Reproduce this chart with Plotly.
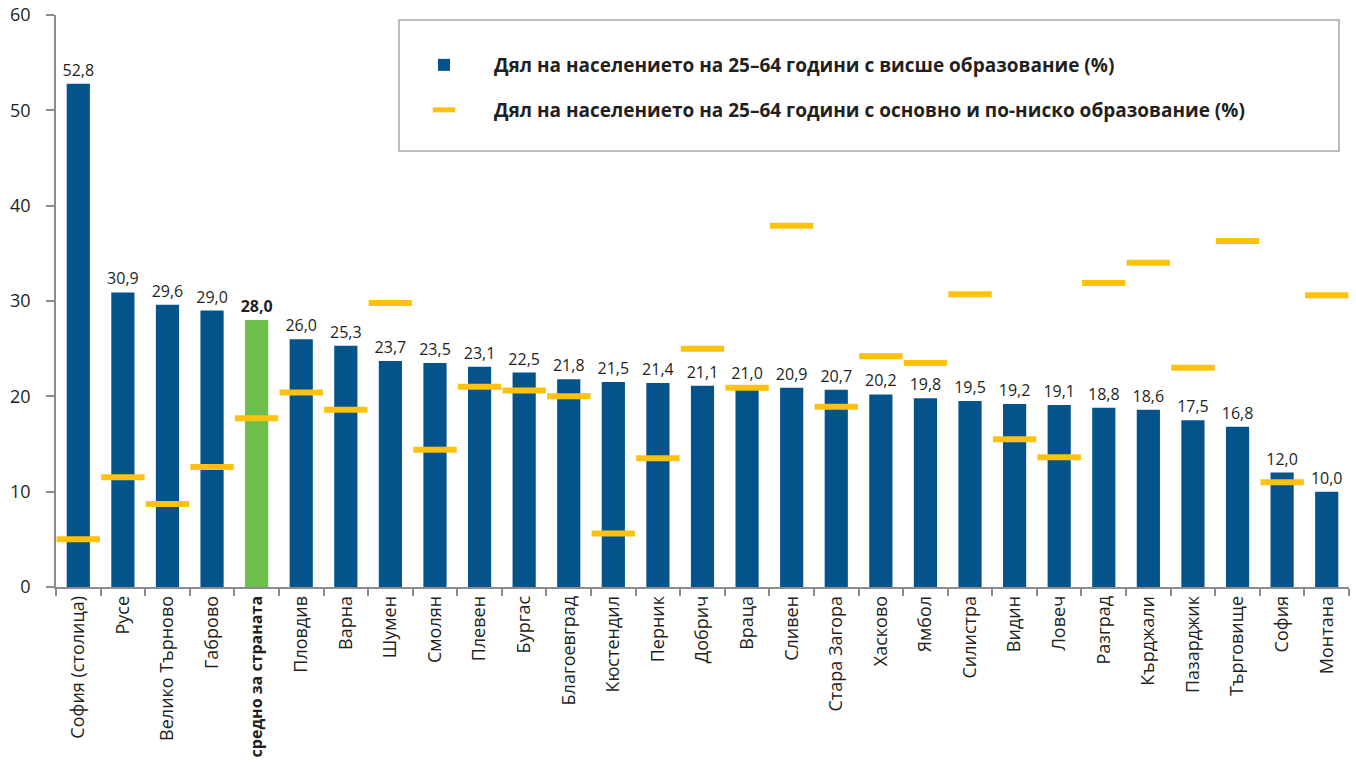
import plotly.graph_objects as go

categories = ["София (столица)", "Русе", "Велико Търново", "Габрово", "средно за страната",
              "Пловдив", "Варна", "Шумен", "Смолян", "Плевен", "Бургас", "Благоевград",
              "Кюстендил", "Перник", "Добрич", "Враца", "Сливен", "Стара Загора", "Хасково",
              "Ямбол", "Силистра", "Видин", "Ловеч", "Разград", "Кърджали", "Пазарджик",
              "Търговище", "София", "Монтана"]
higher_edu = [52.8, 30.9, 29.6, 29.0, 28.0, 26.0, 25.3, 23.7, 23.5, 23.1, 22.5, 21.8,
              21.5, 21.4, 21.1, 21.0, 20.9, 20.7, 20.2, 19.8, 19.5, 19.2, 19.1, 18.8,
              18.6, 17.5, 16.8, 12.0, 10.0]
basic_edu = [5.0, 11.5, 8.7, 12.6, 17.7, 20.4, 18.6, 29.8, 14.4, 21.0, 20.6, 20.0,
             5.6, 13.5, 25.0, 20.9, 37.9, 18.9, 24.2, 23.5, 30.7, 15.5, 13.6, 31.9,
             34.0, 23.0, 36.3, 11.0, 30.6]
average_label = "средно за страната"
y_ticks = [0, 10, 20, 30, 40, 50, 60]

name_high = "Дял на населението на 25–64 години с висше образование (%)"
name_low = "Дял на населението на 25–64 години с основно и по-ниско образование (%)"

BLUE = "#04548b"
GREEN = "#6cbf4b"
YELLOW = "#fdc20f"
TEXT = "#231f20"
AXIS = "#8c8c8c"
FONT = "Open Sans, Noto Sans, sans-serif"

bar_colors = [GREEN if c == average_label else BLUE for c in categories]
bar_text = []
for c, v in zip(categories, higher_edu):
    s = f"{v:.1f}".replace(".", ",")
    bar_text.append(f"<b>{s}</b>" if c == average_label else s)
tick_text = [f"<span style='font-size:16px'><b>{c}</b></span>" if c == average_label else c
             for c in categories]

fig = go.Figure()
fig.add_trace(go.Bar(
    x=categories, y=higher_edu, name=name_high,
    marker=dict(color=bar_colors, line=dict(width=0)),
    width=0.52, text=bar_text, textposition="outside", constraintext="none",
    textfont=dict(size=16, color=TEXT, family=FONT),
    cliponaxis=False, legend="legend",
))
fig.add_trace(go.Scatter(
    x=categories, y=basic_edu, name=name_low, mode="markers",
    marker=dict(symbol="line-ew", size=31, color=YELLOW,
                line=dict(color=YELLOW, width=6)),
    cliponaxis=False, legend="legend2",
))

W, H = 1356, 779
L, R, T, B = 56, 7, 15, 192
pw, ph = W - L - R, H - T - B

def px_x(x):
    return (x - L) / pw

def px_y(y):
    return (H - B - y) / ph

legend_font = dict(family=FONT, size=19, color=TEXT, weight="bold")

fig.update_layout(
    width=W, height=H,
    margin=dict(l=L, r=R, t=T, b=B, autoexpand=False),
    paper_bgcolor="white", plot_bgcolor="white",
    font=dict(family=FONT, color=TEXT),
    showlegend=True,
    legend=dict(x=px_x(394), y=px_y(65), xanchor="left", yanchor="middle",
                bgcolor="rgba(0,0,0,0)", borderwidth=0, itemwidth=90,
                font=legend_font),
    legend2=dict(x=px_x(394), y=px_y(110), xanchor="left", yanchor="middle",
                 bgcolor="rgba(0,0,0,0)", borderwidth=0, itemwidth=90,
                 font=legend_font),
    shapes=[dict(type="rect", xref="paper", yref="paper",
                 x0=px_x(399), x1=px_x(1339), y0=px_y(151), y1=px_y(20),
                 line=dict(color="#a6a6a6", width=1.5), fillcolor="rgba(0,0,0,0)",
                 layer="below")],
    xaxis=dict(
        type="category", tickvals=categories, ticktext=tick_text, automargin=False,
        tickangle=-90, tickson="boundaries", ticks="outside", ticklen=7,
        tickcolor=AXIS, tickwidth=1.5, showline=True, linecolor=AXIS, linewidth=1.5,
        showgrid=False, tickfont=dict(size=18, color=TEXT, family=FONT),
        range=[-0.5, len(categories) - 0.5],
    ),
    yaxis=dict(
        range=[0, 60], tickvals=y_ticks, ticks="outside", ticklen=8, automargin=False,
        tickcolor=AXIS, tickwidth=1.5, showline=True, linecolor=AXIS, linewidth=1.5,
        showgrid=False, zeroline=False, tickfont=dict(size=18, color=TEXT, family=FONT),
        ticklabelstandoff=12,
    ),
    bargap=0.48,
)

fig.write_html("out.html", config={"displayModeBar": False},
               post_script="document.body.style.margin='0';")
